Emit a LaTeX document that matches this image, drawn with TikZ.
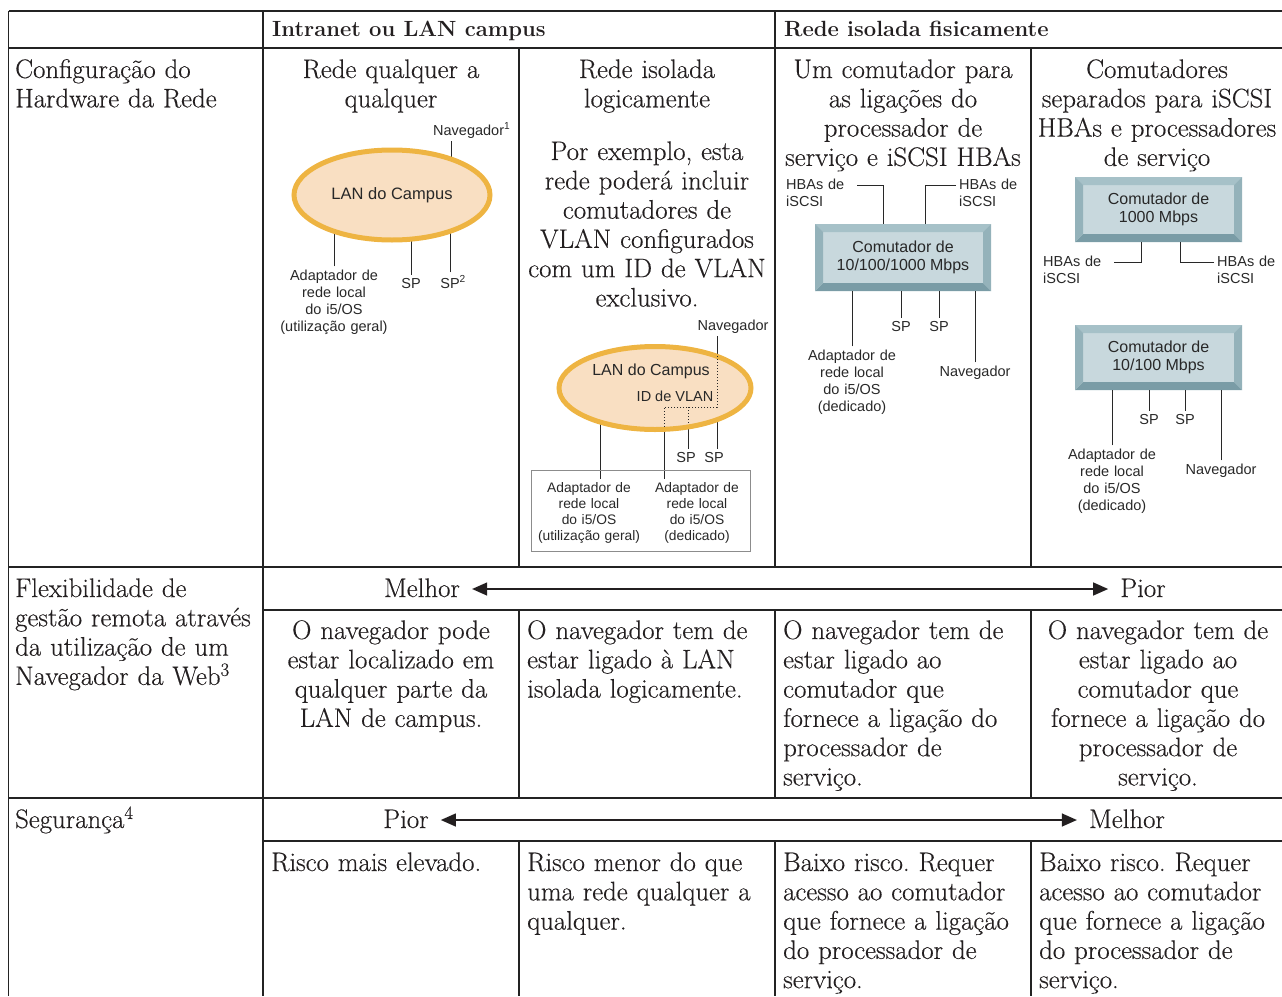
\documentclass[tikz,border=0pt]{standalone}
\usepackage{fontspec}
\setsansfont{Liberation Sans}
\newfontfamily\cellrm{Latin Modern Roman}[FakeBold=0.35]
\usetikzlibrary{shapes.geometric,arrows.meta,backgrounds}
\frenchspacing

\definecolor{lanfill}{RGB}{249,223,194}
\definecolor{lanedge}{RGB}{238,180,66}
\definecolor{swface}{RGB}{200,216,221}
\definecolor{swtop}{RGB}{166,193,200}
\definecolor{swside}{RGB}{148,178,186}
\definecolor{swbottom}{RGB}{122,156,166}
\definecolor{rule}{RGB}{35,35,35}
\definecolor{ink}{RGB}{35,31,32}
\definecolor{labink}{RGB}{40,40,40}
\definecolor{boxgray}{RGB}{140,140,140}

\newcommand{\cellfont}{\cellrm\fontsize{26.8}{29.3}\selectfont}
\newcommand{\headfont}{\fontsize{22}{26}\selectfont\bfseries}
\newcommand{\labfont}{\sffamily\fontsize{14.5}{17}\selectfont}
\newcommand{\boxfont}{\sffamily\fontsize{13.8}{16}\selectfont}
\newcommand{\swfont}{\sffamily\fontsize{16}{18}\selectfont}

\begin{document}
\begin{tikzpicture}[x=1pt,y=-1pt]
  \tikzset{grid/.style = {draw=rule, line width=1.4pt}}
  \tikzset{cell/.style = {inner sep=0pt, text width=#1, font=\cellfont, text=ink}}
  \tikzset{cellL/.style = {cell=#1, align=left, anchor=base west}}
  \tikzset{cellC/.style = {cell=#1, align=center, anchor=base}}
  \tikzset{rankend/.style = {inner ysep=0pt, inner xsep=12pt, font=\cellfont, text=ink,
      text height=17pt, text depth=1pt, anchor=base}}
  \tikzset{rankarrow/.style = {draw=ink, line width=1.3pt,
      {Triangle[length=15pt,width=13pt]}-{Triangle[length=15pt,width=13pt]}}}
  \tikzset{tag/.style = {inner sep=1pt, font=\labfont, text=labink, anchor=base}}
  \tikzset{lab/.style = {tag, text width=#1, align=center}}
  \tikzset{wire/.style = {draw=labink, line width=1pt, shorten <=2pt}}
  \tikzset{vlan/.style = {draw=labink, line width=1pt, dash pattern=on 1pt off 2pt}}
  \tikzset{lan/.style = {ellipse, draw=lanedge, fill=lanfill, line width=5pt,
      inner sep=0pt, font=\sffamily\fontsize{16.5}{19}\selectfont, text=labink}}
  \tikzset{switch/.style = {rectangle, fill=swface, inner sep=0pt, align=center,
      font=\swfont, text=labink,
      path picture={
        \coordinate (bnw) at (path picture bounding box.north west);
        \coordinate (bne) at (path picture bounding box.north east);
        \coordinate (bsw) at (path picture bounding box.south west);
        \coordinate (bse) at (path picture bounding box.south east);
        \fill[swtop] (bnw) -- (bne) -- ([shift={(-8pt,-8pt)}]bne) -- ([shift={(8pt,-8pt)}]bnw) -- cycle;
        \fill[swbottom] (bsw) -- (bse) -- ([shift={(-8pt,8pt)}]bse) -- ([shift={(8pt,8pt)}]bsw) -- cycle;
        \fill[swside] (bnw) -- ([shift={(8pt,-8pt)}]bnw) -- ([shift={(8pt,8pt)}]bsw) -- (bsw) -- cycle;
        \fill[swside] (bne) -- ([shift={(-8pt,-8pt)}]bne) -- ([shift={(-8pt,8pt)}]bse) -- (bse) -- cycle;
      }}}

  \useasboundingbox (0,0) rectangle (1282,996);

  % table rules
  \draw[grid] (8.5,11) -- (1282,11);
  \draw[grid] (8.5,11) -- (8.5,996);
  \draw[grid] (8.5,48) -- (1282,48);
  \draw[grid] (8.5,567) -- (1282,567);
  \draw[grid] (8.5,798) -- (1282,798);
  \draw[grid] (263,610) -- (1282,610);
  \draw[grid] (263,841) -- (1282,841);
  \draw[grid] (263,11) -- (263,996);
  \draw[grid] (775,11) -- (775,48);
  \foreach \x in {519,775,1031}
    \draw[grid] (\x,48) -- (\x,567) (\x,610) -- (\x,798) (\x,841) -- (\x,996);

  \node[anchor=base west, inner sep=0pt, font=\headfont, text=ink] (hdrA) at (272,36) {Intranet ou LAN campus};
  \node[anchor=base west, inner sep=0pt, font=\headfont, text=ink] (hdrB) at (784,36) {Rede isolada fisicamente};

  \node[cellL=245] (rowHw) at (15,78) {Configuração do\\Hardware da Rede};
  \node[cellL=245] (rowWeb) at (15,597) {Flexibilidade de\\gestão remota através\\da utilização de um\\Navegador da Web\textsuperscript{3}};
  \node[cellL=245] (rowSec) at (15,828) {Segurança\textsuperscript{4}};

  \node[cellC=250] (hwA) at (391,78) {Rede qualquer a\\qualquer};
  \node[cellC=250] (hwB) at (647,78) {Rede isolada\\logicamente};
  \node[cellC=250] (hwBx) at (647,160) {Por exemplo, esta\\rede poderá incluir\\comutadores de\\VLAN configurados\\com um ID de VLAN\\exclusivo.};
  \node[cellC=250] (hwC) at (903,78) {Um comutador para\\as ligações do\\processador de\\serviço e iSCSI HBAs};
  \node[cellC=250] (hwD) at (1157,78) {Comutadores\\separados para iSCSI\\HBAs e processadores\\de serviço};

  % rede qualquer a qualquer
  \node[lan, minimum width=196, minimum height=90] (lanA) at (392,195) {LAN do Campus};
  \node[tag, anchor=base west] (navA) at (432,135) {Navegador\rlap{\textsuperscript{1}}};
  \node[lab=130] (adA) at (334,280) {Adaptador de\\rede local\\do i5/OS\\(utilização geral)};
  \node[tag] (spA1) at (411,288) {SP};
  \node[tag] (spA2) at (450,288) {SP\rlap{\textsuperscript{2}}};
  \coordinate (navAtap) at (451,195);
  \begin{scope}[on background layer]
    \draw[wire] (navAtap |- navA.south) -- (navAtap);
    \draw[wire] (adA.north) -- (adA.north |- lanA);
    \draw[wire] (spA1.north) -- (spA1.north |- lanA);
    \draw[wire] (spA2.north) -- (spA2.north |- lanA);
  \end{scope}

  % rede isolada logicamente
  \node[lan, minimum width=192, minimum height=83] (lanB) at (655,388) {};
  \node[tag, font=\swfont] (lanBtxt) at (651,375) {LAN do Campus};
  \node[tag] (vlanB) at (675,401) {ID de VLAN};
  \node[tag] (navB) at (733,330) {Navegador};
  \node[tag] (spB1) at (686,462) {SP};
  \node[tag] (spB2) at (714,462) {SP};
  \node[draw=boxgray, line width=0.8pt, minimum width=219, minimum height=81, inner sep=0pt] (boxB) at (640.5,510.5) {};
  \node[lab=120, font=\boxfont] (adB1) at (589,492) {Adaptador de\\rede local\\do i5/OS\\(utilização geral)};
  \node[lab=120, font=\boxfont] (adB2) at (697,492) {Adaptador de\\rede local\\do i5/OS\\(dedicado)};
  \coordinate (navBtap) at (717,407);
  \coordinate (spBtap) at (688,407);
  \coordinate (adBtap) at (664,407);
  \coordinate (adB1tap) at (600,388);
  \coordinate (vTop) at (717,356);
  \coordinate (vEndA) at (664,427);
  \coordinate (vEndB) at (688,425);
  \begin{scope}[on background layer]
    \draw[wire] (navBtap |- navB.south) -- (navBtap);
    \draw[wire] (navBtap |- spB2.north) -- (navBtap);
    \draw[wire] (spBtap |- spB1.north) -- (spBtap);
    \draw[wire] (adBtap |- adB2.north) -- (adBtap);
    \draw[wire] (adB1tap |- adB1.north) -- (adB1tap);
  \end{scope}
  \draw[vlan] (vTop) -- (navBtap) -- (adBtap) -- (vEndA);
  \draw[vlan] (spBtap) -- (vEndB);

  % um comutador
  \node[switch, minimum width=176, minimum height=67] (swC) at (903,257.5) {Comutador de\\10/100/1000 Mbps};
  \node[lab=68, align=left, anchor=base west] (hbaC1) at (785,189) {HBAs de\\iSCSI};
  \node[lab=68, align=left, anchor=base west] (hbaC2) at (958,189) {HBAs de\\iSCSI};
  \coordinate (kC1) at (883,185);
  \coordinate (kC2) at (925,185);
  \draw[wire] (hbaC1.east |- kC1) -- (kC1) -- (kC1 |- swC.north);
  \draw[wire] (hbaC2.west |- kC2) -- (kC2) -- (kC2 |- swC.north);
  \node[lab=130] (adC) at (852,360) {Adaptador de\\rede local\\do i5/OS\\(dedicado)};
  \node[tag] (spC1) at (901,331) {SP};
  \node[tag] (spC2) at (939,331) {SP};
  \node[tag] (navC) at (975,376) {Navegador};
  \draw[wire] (adC.north) -- (adC.north |- swC.south);
  \draw[wire] (spC1.north) -- (spC1.north |- swC.south);
  \draw[wire] (spC2.north) -- (spC2.north |- swC.south);
  \draw[wire] (navC.north) -- (navC.north |- swC.south);

  % comutadores separados
  \node[switch, minimum width=167, minimum height=65] (swD) at (1158.5,209.5) {Comutador de\\1000 Mbps};
  \node[switch, minimum width=167, minimum height=65] (swE) at (1158.5,357.5) {Comutador de\\10/100 Mbps};
  \node[lab=68, align=left, anchor=base west] (hbaD1) at (1042,266) {HBAs de\\iSCSI};
  \node[lab=68, align=left, anchor=base west] (hbaD2) at (1216,266) {HBAs de\\iSCSI};
  \coordinate (kD1) at (1141,262);
  \coordinate (kD2) at (1180,262);
  \draw[wire] (hbaD1.east |- kD1) -- (kD1) -- (kD1 |- swD.south);
  \draw[wire] (hbaD2.west |- kD2) -- (kD2) -- (kD2 |- swD.south);
  \node[lab=130] (adE) at (1112,459) {Adaptador de\\rede local\\do i5/OS\\(dedicado)};
  \node[tag] (spE1) at (1149,424) {SP};
  \node[tag] (spE2) at (1185,424) {SP};
  \node[tag] (navE) at (1221,474) {Navegador};
  \draw[wire] (adE.north) -- (adE.north |- swE.south);
  \draw[wire] (spE1.north) -- (spE1.north |- swE.south);
  \draw[wire] (spE2.north) -- (spE2.north |- swE.south);
  \draw[wire] (navE.north) -- (navE.north |- swE.south);

  % gestao remota
  \node[rankend] (webBest) at (422,597) {Melhor};
  \node[rankend] (webWorst) at (1143,597) {Pior};
  \draw[rankarrow] (webBest) -- (webWorst);
  \node[cellC=250] (webA) at (391,639) {O navegador pode\\estar localizado em\\qualquer parte da\\LAN de campus.};
  \node[cellL=245] (webB) at (527,639) {O navegador tem de\\estar ligado à LAN\\isolada logicamente.};
  \node[cellL=245] (webC) at (783,639) {O navegador tem de\\estar ligado ao\\comutador que\\fornece a ligação do\\processador de\\serviço.};
  \node[cellC=250] (webD) at (1158,639) {O navegador tem de\\estar ligado ao\\comutador que\\fornece a ligação do\\processador de\\serviço.};

  % seguranca
  \node[rankend] (secWorst) at (406,828) {Pior};
  \node[rankend] (secBest) at (1127,828) {Melhor};
  \draw[rankarrow] (secWorst) -- (secBest);
  \node[cellL=245] (secA) at (271,871) {Risco mais elevado.};
  \node[cellL=245] (secB) at (527,871) {Risco menor do que\\uma rede qualquer a\\qualquer.};
  \node[cellL=245] (secC) at (783,871) {Baixo risco. Requer\\acesso ao comutador\\que fornece a ligação\\do processador de\\serviço.};
  \node[cellL=245] (secD) at (1039,871) {Baixo risco. Requer\\acesso ao comutador\\que fornece a ligação\\do processador de\\serviço.};
\end{tikzpicture}
\end{document}
